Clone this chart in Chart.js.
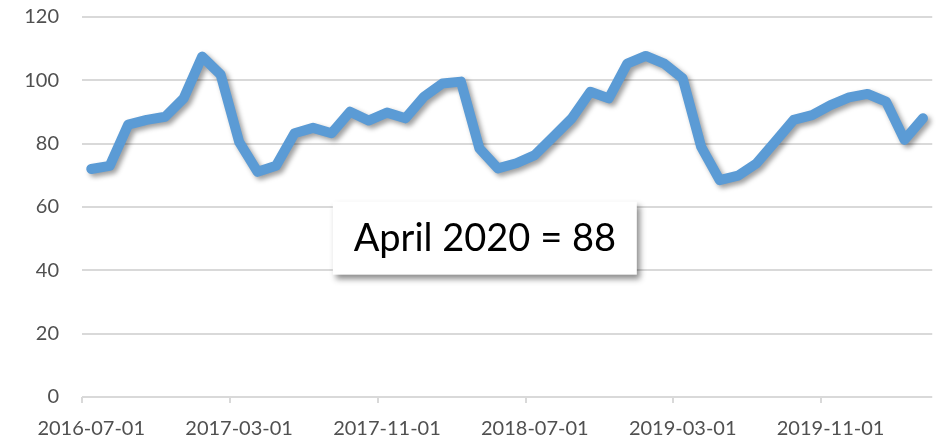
<!DOCTYPE html>
<html>
<head>
<meta charset="utf-8">
<script src="https://cdn.jsdelivr.net/npm/chart.js@4/dist/chart.umd.min.js"></script>
<style>
  html, body { margin: 0; padding: 0; background: #ffffff; }
  #wrap { width: 937px; height: 441px; position: relative; }
</style>
</head>
<body>
<div id="wrap"><canvas id="c" width="937" height="441"></canvas></div>
<script>
// Monthly index, July 2016 to April 2020
const months = [
  '2016-07-01','2016-08-01','2016-09-01','2016-10-01','2016-11-01','2016-12-01',
  '2017-01-01','2017-02-01','2017-03-01','2017-04-01','2017-05-01','2017-06-01',
  '2017-07-01','2017-08-01','2017-09-01','2017-10-01','2017-11-01','2017-12-01',
  '2018-01-01','2018-02-01','2018-03-01','2018-04-01','2018-05-01','2018-06-01',
  '2018-07-01','2018-08-01','2018-09-01','2018-10-01','2018-11-01','2018-12-01',
  '2019-01-01','2019-02-01','2019-03-01','2019-04-01','2019-05-01','2019-06-01',
  '2019-07-01','2019-08-01','2019-09-01','2019-10-01','2019-11-01','2019-12-01',
  '2020-01-01','2020-02-01','2020-03-01','2020-04-01'
];
const indexValues = [
  72, 73, 86, 87.5, 88.5, 94.3,
  107.5, 101.8, 80.6, 71.1, 73, 83.3,
  85, 83.3, 90.1, 87.3, 89.8, 88,
  94.8, 99, 99.6, 78.5, 72.2, 73.8,
  76.4, 82.2, 88, 96.4, 94.3, 105.3,
  107.7, 105.3, 100.6, 79, 68.5, 69.9,
  73.8, 80.6, 87.5, 89, 92.2, 94.6,
  95.7, 93.3, 81.2, 88
];
const yTicks = [0, 20, 40, 60, 80, 100, 120];
const labelEvery = 8;
const calloutMonth = 'April 2020';

const FONT = 'Lato, "Open Sans", sans-serif';
const GRID = '#d9d9d9';

// soft drop shadow under the series line
const lineShadow = {
  id: 'lineShadow',
  beforeDatasetDraw(chart) {
    const ctx = chart.ctx;
    ctx.save();
    ctx.shadowColor = 'rgba(0,0,0,0.38)';
    ctx.shadowBlur = 5;
    ctx.shadowOffsetX = 3;
    ctx.shadowOffsetY = 3;
  },
  afterDatasetDraw(chart) {
    chart.ctx.restore();
  }
};

// callout box with the latest value
const callout = {
  id: 'callout',
  afterDraw(chart) {
    const ctx = chart.ctx;
    const a = chart.chartArea;
    const last = indexValues[indexValues.length - 1];
    const text = calloutMonth + ' = ' + last;
    const x = a.left + (a.right - a.left) * 0.295;
    const y = a.top + (a.bottom - a.top) * 0.486;
    const w = 304, h = 73;
    ctx.save();
    ctx.shadowColor = 'rgba(0,0,0,0.45)';
    ctx.shadowBlur = 6;
    ctx.shadowOffsetX = 3;
    ctx.shadowOffsetY = 4;
    ctx.fillStyle = '#ffffff';
    ctx.fillRect(x, y, w, h);
    ctx.restore();
    ctx.save();
    ctx.fillStyle = '#000000';
    ctx.font = '38px ' + FONT;
    ctx.textAlign = 'center';
    ctx.textBaseline = 'middle';
    ctx.fillText(text, x + w / 2, y + h / 2 + 1);
    ctx.restore();
  }
};

new Chart(document.getElementById('c'), {
  type: 'line',
  data: {
    labels: months,
    datasets: [{
      data: indexValues,
      borderColor: '#5b9bd5',
      borderWidth: 10,
      borderJoinStyle: 'round',
      borderCapStyle: 'round',
      pointRadius: 0,
      tension: 0,
      fill: false
    }]
  },
  options: {
    responsive: false,
    animation: false,
    layout: { padding: { left: 0, right: 1, top: 17, bottom: 0 } },
    plugins: { legend: { display: false }, tooltip: { enabled: false } },
    scales: {
      x: {
        type: 'category',
        offset: true,
        border: { display: false },
        grid: {
          offset: true,
          drawOnChartArea: false,
          drawTicks: true,
          tickLength: 6,
          color: (c) => (c.index % labelEvery === 0 ? GRID : 'rgba(0,0,0,0)'),
          lineWidth: 2
        },
        ticks: {
          autoSkip: false,
          maxRotation: 0,
          minRotation: 0,
          padding: 14,
          color: '#505050',
          font: { family: FONT, size: 20 },
          callback: (v, i) => (i % labelEvery === 0 ? months[i] : '')
        },
        afterFit: (s) => { s.height = 44; s.paddingTop = 0; s.paddingBottom = 0; }
      },
      y: {
        min: 0,
        max: 120,
        border: { display: false },
        grid: { color: GRID, lineWidth: 2, drawTicks: false },
        afterBuildTicks: (s) => { s.ticks = yTicks.map(v => ({ value: v })); },
        ticks: {
          padding: 23,
          color: '#505050',
          font: { family: FONT, size: 20 }
        },
        afterFit: (s) => { s.width = 82; s.paddingTop = 0; s.paddingBottom = 0; }
      }
    }
  },
  plugins: [lineShadow, callout]
});
</script>
</body>
</html>
